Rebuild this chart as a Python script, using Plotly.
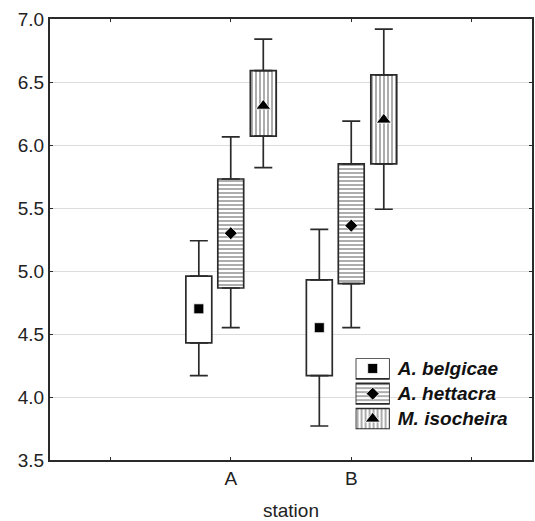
import plotly.graph_objects as go

# ---- data ----
stations = ["A", "B"]
station_pos = [1.5, 2.5]
species = ["A. belgicae", "A. hettacra", "M. isocheira"]

mean_belgicae = [4.70, 4.55]
box_low_belgicae = [4.43, 4.17]
box_high_belgicae = [4.96, 4.93]
whisk_low_belgicae = [4.17, 3.77]
whisk_high_belgicae = [5.24, 5.33]

mean_hettacra = [5.30, 5.36]
box_low_hettacra = [4.865, 4.90]
box_high_hettacra = [5.73, 5.85]
whisk_low_hettacra = [4.55, 4.55]
whisk_high_hettacra = [6.065, 6.19]

mean_isocheira = [6.31, 6.20]
box_low_isocheira = [6.07, 5.85]
box_high_isocheira = [6.59, 6.557]
whisk_low_isocheira = [5.82, 5.49]
whisk_high_isocheira = [6.84, 6.92]

y_ticks = [3.5, 4.0, 4.5, 5.0, 5.5, 6.0, 6.5, 7.0]

# ---- styles ----
offsets = [-0.265, 0.0, 0.27]
box_w = 0.215
patterns = ["", "-", "|"]
symbols = ["square", "diamond", "triangle-up"]
sizes = [10, 10, 13]
FONT = "Liberation Sans, Arial, sans-serif"
LINE = "#2a2a2a"
PAT = dict(fgcolor="#3a3a3a", bgcolor="white", size=4, solidity=0.42)

series = [
    (mean_belgicae, box_low_belgicae, box_high_belgicae, whisk_low_belgicae, whisk_high_belgicae),
    (mean_hettacra, box_low_hettacra, box_high_hettacra, whisk_low_hettacra, whisk_high_hettacra),
    (mean_isocheira, box_low_isocheira, box_high_isocheira, whisk_low_isocheira, whisk_high_isocheira),
]

fig = go.Figure()

for i, (mn, blo, bhi, wlo, whi) in enumerate(series):
    xs = [p + offsets[i] for p in station_pos]
    fig.add_trace(go.Bar(
        x=xs, y=[h - l for h, l in zip(bhi, blo)], base=blo, width=box_w,
        marker=dict(color="white", line=dict(color=LINE, width=1.7),
                    pattern=dict(shape=patterns[i], **PAT)),
        showlegend=False, hoverinfo="skip"))
    # upper whisker
    fig.add_trace(go.Scatter(
        x=xs, y=bhi, mode="markers", marker=dict(size=1, opacity=0),
        error_y=dict(type="data", symmetric=False,
                     array=[h - b for h, b in zip(whi, bhi)], arrayminus=[0] * len(bhi),
                     color=LINE, thickness=1.7, width=9),
        showlegend=False, hoverinfo="skip"))
    # lower whisker
    fig.add_trace(go.Scatter(
        x=xs, y=blo, mode="markers", marker=dict(size=1, opacity=0),
        error_y=dict(type="data", symmetric=False,
                     array=[0] * len(blo), arrayminus=[b - l for b, l in zip(blo, wlo)],
                     color=LINE, thickness=1.7, width=9),
        showlegend=False, hoverinfo="skip"))
    # mean
    fig.add_trace(go.Scatter(
        x=xs, y=mn, mode="markers",
        marker=dict(symbol=symbols[i], size=sizes[i], color="black",
                    line=dict(color="white", width=0.8)),
        showlegend=False, hoverinfo="skip"))

# ---- inset legend (keys drawn on a small extra axis) ----
for i, name in enumerate(species):
    fig.add_trace(go.Bar(
        x=[1], y=[i], base=[0], width=0.82, orientation="h",
        xaxis="x2", yaxis="y2",
        marker=dict(color="white", line=dict(color=LINE, width=1.7),
                    pattern=dict(shape=patterns[i], **PAT)),
        showlegend=False, hoverinfo="skip"))
    fig.add_trace(go.Scatter(
        x=[0.5], y=[i], mode="markers", xaxis="x2", yaxis="y2",
        marker=dict(symbol=symbols[i], size=sizes[i], color="black",
                    line=dict(color="white", width=0.8)),
        showlegend=False, hoverinfo="skip"))

fig.update_layout(
    width=535, height=521,
    margin=dict(l=50, r=1, t=19, b=61),
    paper_bgcolor="white", plot_bgcolor="white",
    barmode="overlay",
    font=dict(family=FONT, size=19, color="#222"),
    xaxis=dict(range=[0, 4], tickvals=[0.5] + station_pos + [3.5],
               ticktext=[""] + stations + [""],
               showgrid=False, zeroline=False,
               showline=True, linecolor=LINE, linewidth=2, mirror="ticks",
               ticks="inside", ticklen=3, tickcolor=LINE,
               tickfont=dict(size=19),
               title=dict(text="station", font=dict(size=19), standoff=17)),
    yaxis=dict(range=[3.5, 7.0], tickvals=y_ticks,
               ticktext=[f"{v:.1f}" for v in y_ticks],
               showgrid=True, gridcolor="#dcdcdc", gridwidth=1, zeroline=False,
               showline=True, linecolor=LINE, linewidth=2, mirror="ticks",
               ticks="inside", ticklen=3, tickcolor=LINE,
               tickfont=dict(size=19)),
    xaxis2=dict(domain=[0.634, 0.705], range=[0, 1], anchor="y2",
                visible=False, fixedrange=True),
    yaxis2=dict(domain=[0.070, 0.231], range=[2.41, -0.41], anchor="x2",
                side="right", tickvals=[0, 1, 2], ticktext=species,
                showgrid=False, zeroline=False, showline=False, ticks="",
                ticklabelstandoff=7,
                tickfont=dict(size=19, weight="bold", style="italic", color="#111")),
)

fig.write_html("out.html")
